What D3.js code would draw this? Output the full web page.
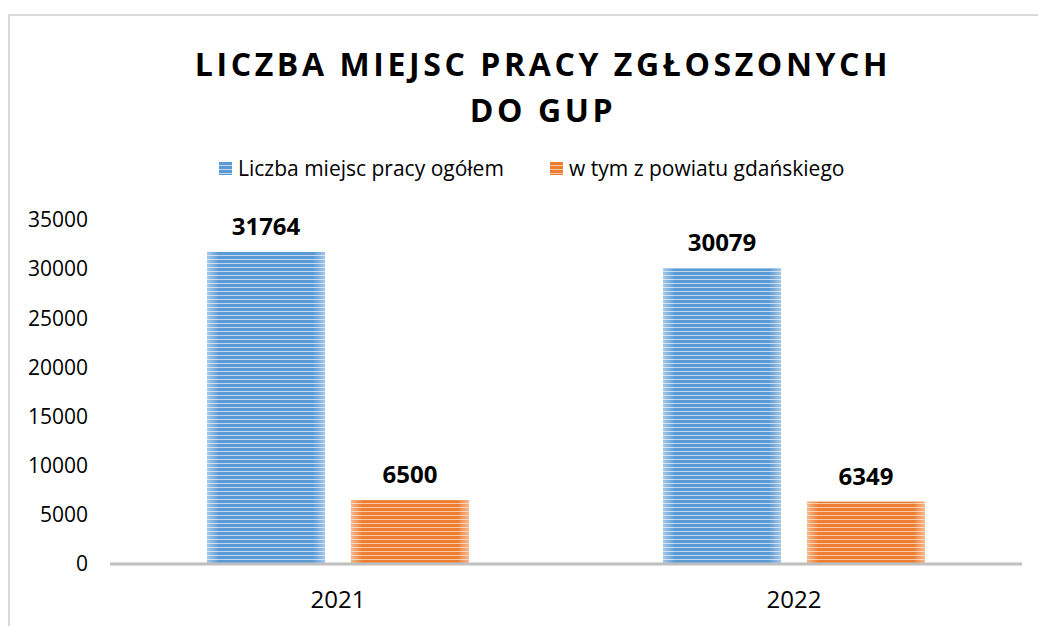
<!DOCTYPE html>
<html>
<head>
<meta charset="utf-8">
<script src="https://cdn.jsdelivr.net/npm/d3@7"></script>
<style>
  html, body { margin: 0; padding: 0; background: #fff; }
  svg { display: block; font-family: "Open Sans", sans-serif; }
</style>
</head>
<body>
<div id="chart"></div>
<script>
// ── Liczba miejsc pracy zgłoszonych do GUP ──
const titleLines = ["LICZBA MIEJSC PRACY ZGŁOSZONYCH", "DO GUP"];
const years = ["2021", "2022"];
const seriesNames = ["Liczba miejsc pracy ogółem", "w tym z powiatu gdańskiego"];
const totalJobs = [31764, 30079];
const gdanskJobs = [6500, 6349];
const yTicks = [0, 5000, 10000, 15000, 20000, 25000, 30000, 35000];

function drawChart() {
    const width = 1038, height = 626;
    const plot = { left: 110, right: 1022, top: 220, bottom: 564 };

    const svg = d3.select("#chart").append("svg")
        .attr("width", width).attr("height", height);

    // stripe patterns
    const defs = svg.append("defs");
    const stripes = [
        { id: "stripe-blue",   dark: "#5b9bd5", light: "#c3d8ef" },
        { id: "stripe-orange", dark: "#ed7d31", light: "#f8c8a4" }
    ];
    stripes.forEach(s => {
        const p = defs.append("pattern").attr("id", s.id)
            .attr("patternUnits", "userSpaceOnUse")
            .attr("width", 8).attr("height", 4);
        p.append("rect").attr("width", 8).attr("height", 4).attr("fill", s.dark);
        p.append("rect").attr("y", 3).attr("width", 8).attr("height", 1).attr("fill", s.light);
    });
    const glow = defs.append("linearGradient").attr("id", "edge-glow")
        .attr("x1", "0").attr("x2", "1").attr("y1", "0").attr("y2", "0");
    [[0, 0.45], [0.1, 0], [0.9, 0], [1, 0.45]].forEach(([o, a]) =>
        glow.append("stop").attr("offset", o).attr("stop-color", "#fff").attr("stop-opacity", a));

    // outer border
    svg.append("rect").attr("x", 9).attr("y", 15)
        .attr("width", width + 20).attr("height", height + 20)
        .attr("fill", "none").attr("stroke", "#d9d9d9").attr("stroke-width", 2);

    // title
    svg.append("text").attr("text-anchor", "middle")
        .style("font-size", "32px").style("font-weight", "bold").style("letter-spacing", "3.6px")
        .selectAll("tspan").data(titleLines).join("tspan")
        .attr("x", 543).attr("y", (d, i) => 76 + i * 46)
        .text(d => d);

    const x0 = d3.scaleBand().domain(years).range([plot.left, plot.right]);
    const x1 = d3.scaleBand().domain(seriesNames).range([0, x0.bandwidth()])
        .paddingInner(0.18).paddingOuter(0.674);
    const y = d3.scaleLinear().domain([0, 35000]).range([plot.bottom, plot.top]);

    // y axis labels
    const yAxis = svg.append("g").attr("transform", "translate(88,0)")
        .call(d3.axisLeft(y).tickValues(yTicks).tickSize(0).tickPadding(0).tickFormat(d3.format("d")));
    yAxis.select(".domain").remove();
    yAxis.selectAll("text").style("font-size", "21px").style("fill", "#000")
        .style("font-family", "'Open Sans', sans-serif");

    const data = years.map((yr, i) => ({
        year: yr,
        values: [
            { name: seriesNames[0], value: totalJobs[i], fill: "url(#stripe-blue)" },
            { name: seriesNames[1], value: gdanskJobs[i], fill: "url(#stripe-orange)" }
        ]
    }));

    const groups = svg.selectAll("g.year").data(data).join("g").attr("class", "year")
        .attr("transform", d => `translate(${x0(d.year)},0)`);

    groups.selectAll("rect.bar").data(d => d.values).join("rect").attr("class", "bar")
        .attr("x", d => x1(d.name)).attr("y", d => y(d.value))
        .attr("width", x1.bandwidth()).attr("height", d => y(0) - y(d.value))
        .attr("fill", d => d.fill);
    groups.selectAll("rect.glow").data(d => d.values).join("rect").attr("class", "glow")
        .attr("x", d => x1(d.name)).attr("y", d => y(d.value))
        .attr("width", x1.bandwidth()).attr("height", d => y(0) - y(d.value))
        .attr("fill", "url(#edge-glow)");

    groups.selectAll("text.val").data(d => d.values).join("text").attr("class", "val")
        .attr("x", d => x1(d.name) + x1.bandwidth() / 2)
        .attr("y", d => y(d.value) - 17)
        .attr("text-anchor", "middle")
        .style("font-size", "24px").style("font-weight", "bold").style("fill", "#000")
        .text(d => d.value);

    // x axis line + labels
    svg.append("line").attr("x1", plot.left).attr("x2", plot.right)
        .attr("y1", plot.bottom).attr("y2", plot.bottom)
        .attr("stroke", "#bfbfbf").attr("stroke-width", 3);
    svg.selectAll("text.cat").data(years).join("text").attr("class", "cat")
        .attr("x", d => x0(d) + x0.bandwidth() / 2).attr("y", plot.bottom + 44)
        .attr("text-anchor", "middle").style("font-size", "24px").style("fill", "#000")
        .text(d => d);

    // legend
    const legendX = [219, 550];
    const leg = svg.selectAll("g.legend").data(seriesNames).join("g").attr("class", "legend")
        .attr("transform", (d, i) => `translate(${legendX[i]},162)`);
    leg.append("rect").attr("width", 13).attr("height", 13)
        .attr("fill", (d, i) => i === 0 ? "url(#stripe-blue)" : "url(#stripe-orange)");
    leg.append("text").attr("x", 19).attr("y", 14)
        .style("font-size", "21px").style("fill", "#000")
        .text(d => d);
}

drawChart();
</script>
</body>
</html>
